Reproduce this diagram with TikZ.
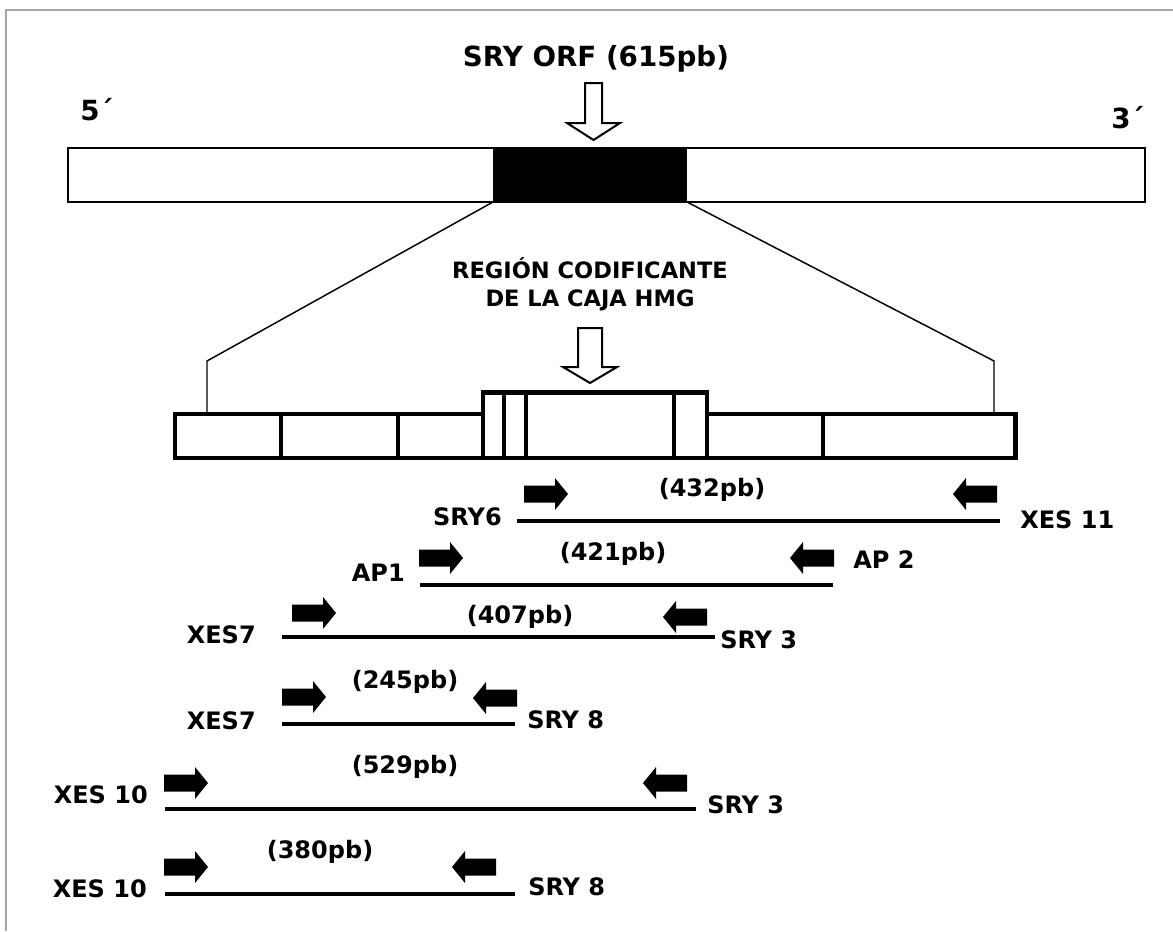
\documentclass[tikz,border=0pt]{standalone}
\usepackage{fontspec}
\setmainfont{DejaVu Sans}
\begin{document}
\begin{tikzpicture}[x=0.75pt,y=-0.75pt,
  lbl/.style={font=\bfseries\fontsize{18}{20}\selectfont, inner sep=0pt},
  ttl/.style={font=\bfseries\fontsize{20.8}{24}\selectfont, inner sep=0pt},
  sub/.style={font=\bfseries\fontsize{16.9}{20}\selectfont, inner sep=0pt},
  thinbar/.style={line width=1.5pt},
  thickbar/.style={line width=3.6pt, line join=miter},
  divider/.style={line width=3pt},
  conn/.style={line width=1.1pt},
  pcr/.style={line width=3pt},
  hollow/.style={line width=1.5pt, fill=white, line join=miter},
  primerR/.pic={\fill (-22,-8.5) -- (9,-8.5) -- (9,-16) -- (22,0) -- (9,16) -- (9,8.5) -- (-22,8.5) -- cycle;}
]
\useasboundingbox (0,0) rectangle (1173,931);
% frame
\draw[gray!70, line width=1.3pt] (1173,10) -- (6,10) -- (6,931);

% title and ends
\node[ttl, anchor=mid] (title) at (596,63) {SRY ORF (615pb)};
\node[ttl, anchor=mid west] (five) at (80,117) {5´};
\node[ttl, anchor=mid west] (three) at (1111,125) {3´};

% top arrow
\draw[hollow] (585,83) -- (602,83) -- (602,123) -- (620,123) -- (593.5,140) -- (567,123) -- (585,123) -- cycle;

% top bar
\draw[thinbar] (68,148) rectangle (1145,202);
\fill (493,148) rectangle (687,202);
\coordinate (bl) at (493,202);
\coordinate (br) at (687,202);

% zoom lines
\coordinate (kl) at (207,361);
\coordinate (kr) at (994,361);
\coordinate (ll) at (207,413);
\coordinate (lr) at (994,413);
\draw[conn] (bl) -- (kl) -- (ll);
\draw[conn] (br) -- (kr) -- (lr);

% HMG label
\node[sub, anchor=mid] (hmg1) at (590,275) {REGIÓN CODIFICANTE};
\node[sub, anchor=mid] (hmg2) at (590,303) {DE LA CAJA HMG};

% second arrow
\draw[hollow] (578,328) -- (602,328) -- (602,367) -- (617,367) -- (590,383) -- (563,367) -- (578,367) -- cycle;

% lower bar
\draw[thickbar] (175,414) -- (483,414) -- (483,392.5) -- (707,392.5) -- (707,414) -- (1015.5,414) -- (1015.5,458) -- (175,458) -- cycle;
\draw[thickbar] (483,414) -- (483,458);
\draw[thickbar] (707,414) -- (707,458);
\foreach \xx in {281,398,823} \draw[divider] (\xx,414) -- (\xx,458);
\foreach \xx in {504,526,674} \draw[divider] (\xx,392.5) -- (\xx,458);

% PCR rows
% row 1
\draw[pcr] (517,521) -- (1000,521);
\pic at (546,494) {primerR};
\pic[xscale=-1] at (975,494) {primerR};
\node[lbl, anchor=mid] (p432) at (712,493) {(432pb)};
\node[lbl, anchor=mid east] (sry6) at (502,522) {SRY6};
\node[lbl, anchor=mid west] (xes11) at (1020,525) {XES 11};
% row 2
\draw[pcr] (420,585) -- (833,585);
\pic at (441,558) {primerR};
\pic[xscale=-1] at (812,558) {primerR};
\node[lbl, anchor=mid] (p421) at (613,557) {(421pb)};
\node[lbl, anchor=mid east] (ap1) at (405,578) {AP1};
\node[lbl, anchor=mid west] (ap2) at (853,565) {AP 2};
% row 3
\draw[pcr] (282,637) -- (715,637);
\pic at (314,613) {primerR};
\pic[xscale=-1] at (685,617) {primerR};
\node[lbl, anchor=mid] (p407) at (520,620) {(407pb)};
\node[lbl, anchor=mid east] (xes7a) at (256,640) {XES7};
\node[lbl, anchor=mid west] (sry3a) at (720,645) {SRY 3};
% row 4
\draw[pcr] (282,724) -- (515,724);
\pic at (304,697) {primerR};
\pic[xscale=-1] at (495,698) {primerR};
\node[lbl, anchor=mid] (p245) at (405,685) {(245pb)};
\node[lbl, anchor=mid east] (xes7b) at (256,726) {XES7};
\node[lbl, anchor=mid west] (sry8a) at (527,725) {SRY 8};
% row 5
\draw[pcr] (165,809) -- (696,809);
\pic at (186,783) {primerR};
\pic[xscale=-1] at (665,783) {primerR};
\node[lbl, anchor=mid] (p529) at (405,770) {(529pb)};
\node[lbl, anchor=mid east] (xes10a) at (148,800) {XES 10};
\node[lbl, anchor=mid west] (sry3b) at (707,810) {SRY 3};
% row 6
\draw[pcr] (165,894) -- (515,894);
\pic at (186,867) {primerR};
\pic[xscale=-1] at (474,867) {primerR};
\node[lbl, anchor=mid] (p380) at (320,855) {(380pb)};
\node[lbl, anchor=mid east] (xes10b) at (147,894) {XES 10};
\node[lbl, anchor=mid west] (sry8b) at (528,892) {SRY 8};
\end{tikzpicture}
\end{document}
